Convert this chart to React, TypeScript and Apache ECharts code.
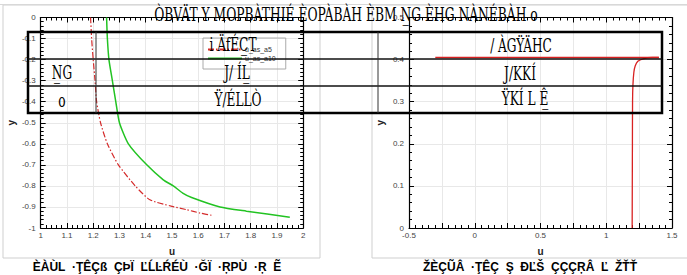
import React, { useEffect, useRef } from "react";
import * as echarts from "echarts";

// Left panel data (u, y)
const leftA5: [number, number][] = [
  [1.19, 0], [1.194, -0.1], [1.2, -0.2], [1.207, -0.3], [1.213, -0.4],
  [1.228, -0.5], [1.254, -0.6], [1.296, -0.7], [1.36, -0.8], [1.416, -0.866],
  [1.5, -0.897], [1.556, -0.913], [1.607, -0.929], [1.657, -0.941],
];
const leftA10: [number, number][] = [
  [1.251, 0], [1.254, -0.1], [1.26, -0.2], [1.273, -0.3], [1.286, -0.4],
  [1.3, -0.5], [1.334, -0.6], [1.404, -0.7], [1.467, -0.771], [1.505, -0.8],
  [1.541, -0.834], [1.575, -0.855], [1.683, -0.9], [1.784, -0.92], [1.949, -0.949],
];
// Right panel data (u, y)
const rightProfile: [number, number][] = [
  [1.197, 0], [1.198, 0.1], [1.199, 0.2], [1.2, 0.3], [1.203, 0.34],
  [1.21, 0.37], [1.22, 0.385], [1.24, 0.396], [1.28, 0.402], [1.35, 0.405], [1.4, 0.405],
];
const rightLine: [number, number][] = [[-0.3, 0.405], [1.4, 0.405]];

const seriesNames = ["u_as_a5", "u_as_a10"];
const titleText = "ÒBVÄT Y MOPBÀTHIÉ ÈOPÀBÀH ÈBM N\u0332G ÈHG NÀNÉBÀH o";
const captionLeft = "ÈÀÙL  ·ŢÊÇß  ÇÞÏ  ĽĹĿŔÉÙ  ·ĞÏ  ·ŖΡÙ  ·Ŗ  Ẽ";
const captionRight = "ŽÈÇŨÂ  ·ŢÊÇ  Ş  ÐĽŠ  ÇÇÇŖÂ  Ľ  ŽŤŤ";
const tableTexts = [
  { t: "N\u0332G", x: 62, y: 73 },
  { t: "o", x: 62, y: 101 },
  { t: "i ÄfÉC\u0332T", x: 233, y: 45 },
  { t: "J/ ÍL\u0332", x: 237, y: 73 },
  { t: "Ÿ/ÉLLÒ", x: 238, y: 100 },
  { t: "/ ÀGŸÄHC", x: 521, y: 46 },
  { t: "J/KKÍ", x: 520, y: 74 },
  { t: "ŸKÍ L Ê\u0332", x: 525, y: 99 },
];

const axisLineStyle = { lineStyle: { color: "#000", width: 1.2 } };
const labelStyle = { fontSize: 8, color: "#444", fontFamily: "Liberation Sans" };
const nameStyle = { fontSize: 10, fontWeight: "bold" as const, color: "#222", fontFamily: "Liberation Sans" };
const splitStyle = { show: true, lineStyle: { color: "#e8e8e8", width: 1 } };

function fmt(v: number) {
  return String(Math.round(v * 100) / 100);
}

export default function App() {
  const ref = useRef<HTMLDivElement>(null);
  useEffect(() => {
    if (!ref.current) return;
    const chart = echarts.init(ref.current, undefined, { renderer: "svg" });
    const serif = "DejaVu Serif Condensed, Liberation Serif, serif";
    const graphic: any[] = [
      // image frames
      { type: "rect", shape: { x: 3, y: 5, width: 317, height: 253 }, style: { fill: "none", stroke: "#cfcfcf", lineWidth: 1 }, z: 0 },
      { type: "rect", shape: { x: 372, y: 5, width: 320, height: 253 }, style: { fill: "none", stroke: "#cfcfcf", lineWidth: 1 }, z: 0 },
      { type: "line", shape: { x1: 0, y1: 4.5, x2: 687, y2: 4.5 }, style: { stroke: "#d8d8d8", lineWidth: 1 }, z: 0 },
      // table overlay
      { type: "rect", shape: { x: 28, y: 32, width: 634, height: 81 }, style: { fill: "none", stroke: "#000", lineWidth: 2.5 }, z: 100 },
      { type: "line", shape: { x1: 28, y1: 59, x2: 662, y2: 59 }, style: { stroke: "#111", lineWidth: 1.4 }, z: 100 },
      { type: "line", shape: { x1: 28, y1: 86, x2: 662, y2: 86 }, style: { stroke: "#111", lineWidth: 1.4 }, z: 100 },
      { type: "line", shape: { x1: 96, y1: 32, x2: 96, y2: 113 }, style: { stroke: "#333", lineWidth: 1 }, z: 100 },
      { type: "line", shape: { x1: 378, y1: 32, x2: 378, y2: 113 }, style: { stroke: "#333", lineWidth: 1 }, z: 100 },
      {
        type: "text", x: 346, y: 15, scaleX: 0.72, z: 110,
        style: { text: titleText, fill: "#000", font: `19px ${serif}`, textAlign: "center", textVerticalAlign: "middle" },
      },
      {
        type: "text", x: 157, y: 267, z: 110,
        style: { text: captionLeft, fill: "#000", font: `bold 12px Liberation Sans, sans-serif`, textAlign: "center", textVerticalAlign: "middle" },
      },
      {
        type: "text", x: 530, y: 267, z: 110,
        style: { text: captionRight, fill: "#000", font: `bold 12px Liberation Sans, sans-serif`, textAlign: "center", textVerticalAlign: "middle" },
      },
      ...tableTexts.map((d) => ({
        type: "text", x: d.x, y: d.y, scaleX: 0.75, z: 110,
        style: { text: d.t, fill: "#000", font: `18px ${serif}`, textAlign: "center", textVerticalAlign: "middle" },
      })),
    ];

    const mkX = (grid: number, min: number, max: number, interval: number, top: boolean, labelFilter?: (v: number) => string) => ({
      type: "value", gridIndex: grid, min, max, interval,
      position: top ? "top" : "bottom",
      axisLine: { show: true, onZero: false, ...axisLineStyle },
      axisTick: { show: true, inside: true, length: 5, lineStyle: { color: "#000" } },
      minorTick: { show: true, splitNumber: 5, length: 3, lineStyle: { color: "#000" } },
      splitLine: top ? { show: false } : splitStyle,
      axisLabel: top ? { show: false } : { ...labelStyle, margin: 3, formatter: labelFilter || fmt },
      name: top ? "" : "u",
      nameLocation: "middle", nameGap: 18, nameTextStyle: nameStyle,
    });
    const mkY = (grid: number, min: number, max: number, interval: number, right: boolean) => ({
      type: "value", gridIndex: grid, min, max, interval,
      position: right ? "right" : "left",
      axisLine: { show: true, onZero: false, ...axisLineStyle },
      axisTick: { show: true, inside: true, length: 5, lineStyle: { color: "#000" } },
      minorTick: { show: true, splitNumber: 5, length: 3, lineStyle: { color: "#000" } },
      splitLine: right ? { show: false } : splitStyle,
      axisLabel: right ? { show: false } : { ...labelStyle, margin: 5, formatter: fmt },
      name: right ? "" : "y",
      nameLocation: "middle", nameGap: 24, nameRotate: 90, nameTextStyle: nameStyle,
    });

    const rightXLabel = (v: number) => (Math.abs(v * 2 - Math.round(v * 2)) < 1e-6 ? fmt(v) : "");

    chart.setOption({
      animation: false,
      backgroundColor: "#fff",
      grid: [
        { left: 40.7, top: 17.5, width: 262.5, height: 210.5 },
        { left: 409, top: 17.5, width: 263, height: 210.5 },
      ],
      xAxis: [
        mkX(0, 1, 2, 0.1, false),
        mkX(0, 1, 2, 0.1, true),
        mkX(1, -0.5, 1.5, 0.25, false, rightXLabel),
        mkX(1, -0.5, 1.5, 0.25, true),
      ],
      yAxis: [
        mkY(0, -1, 0, 0.1, false),
        mkY(0, -1, 0, 0.1, true),
        mkY(1, 0, 0.5, 0.1, false),
        mkY(1, 0, 0.5, 0.1, true),
      ],
      legend: {
        show: true,
        data: seriesNames,
        orient: "vertical",
        left: 203,
        top: 38,
        itemWidth: 34,
        itemHeight: 8,
        itemGap: 2,
        padding: [8, 10, 7, 4],
        borderColor: "#aaa",
        borderWidth: 1,
        itemStyle: { opacity: 0 },
        textStyle: { fontSize: 7, color: "#333", fontFamily: "Liberation Sans", padding: [4, 0, 0, -2] },
      },
      series: [
        {
          name: seriesNames[0], type: "line", xAxisIndex: 0, yAxisIndex: 0, data: leftA5,
          symbol: "none", smooth: 0.2, lineStyle: { color: "#d42a2a", width: 1.2, type: [6, 2, 1.5, 2] }, itemStyle: { color: "#d42a2a" },
        },
        {
          name: seriesNames[1], type: "line", xAxisIndex: 0, yAxisIndex: 0, data: leftA10,
          symbol: "none", smooth: 0.2, lineStyle: { color: "#22c322", width: 1.5 }, itemStyle: { color: "#22c322" },
        },
        {
          name: "profile", type: "line", xAxisIndex: 2, yAxisIndex: 2, data: rightProfile,
          symbol: "none", smooth: 0.3, lineStyle: { color: "#d82222", width: 1.3 }, itemStyle: { color: "#d82222" },
        },
        {
          name: "level", type: "line", xAxisIndex: 2, yAxisIndex: 2, data: rightLine,
          symbol: "none", lineStyle: { color: "#d82222", width: 1.3 }, itemStyle: { color: "#d82222" },
        },
      ],
      graphic,
    });
    return () => chart.dispose();
  }, []);
  return (
    <div
      ref={ref}
      style={{ position: "absolute", left: 0, top: 0, width: 687, height: 275, background: "#fff" }}
    />
  );
}
